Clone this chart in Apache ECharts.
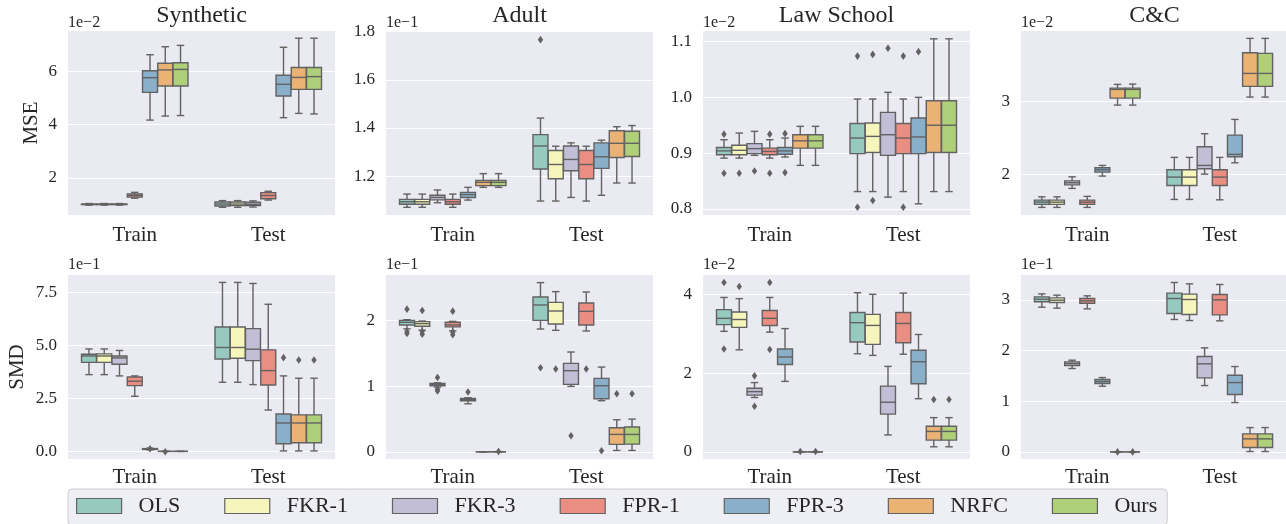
<!DOCTYPE html>
<html><head><meta charset="utf-8">
<script src="https://cdn.jsdelivr.net/npm/echarts@6/dist/echarts.min.js"></script>
<style>html,body{margin:0;padding:0;background:#fff}#c{width:1286px;height:524px}</style>
</head><body><div id="c"></div>
<script>
// ---------- data ----------
const hues = ['OLS', 'FKR-1', 'FKR-3', 'FPR-1', 'FPR-3', 'NRFC', 'Ours'];
const categories = ['Train', 'Test'];
const panelTitles = ['Synthetic', 'Adult', 'Law School', 'C&C'];
const rowNames = ['MSE', 'SMD'];

// each box: [min, q1, median, q3, max]; outliers: [categoryIndex, hueIndex, value]
const synMseTrain = [[0.98,1.00,1.01,1.02,1.04],[0.98,1.00,1.01,1.02,1.04],[0.98,1.00,1.01,1.02,1.04],[1.24,1.28,1.34,1.40,1.46],[4.17,5.21,5.76,6.02,6.62],[4.32,5.45,6.05,6.30,6.92],[4.34,5.45,6.07,6.32,6.97]];
const synMseTest  = [[0.90,0.95,1.02,1.10,1.15],[0.90,0.96,1.02,1.10,1.15],[0.91,0.96,1.01,1.09,1.14],[1.17,1.22,1.34,1.45,1.50],[4.26,5.07,5.51,5.85,6.90],[4.42,5.32,5.77,6.14,7.24],[4.40,5.32,5.80,6.14,7.24]];
const synMseOut   = [];
const synMseTicks = [2, 4, 6];

const adultMseTrain = [[1.070,1.083,1.093,1.103,1.125],[1.070,1.083,1.093,1.103,1.125],[1.089,1.101,1.111,1.120,1.142],[1.070,1.083,1.093,1.103,1.125],[1.100,1.111,1.123,1.132,1.153],[1.153,1.160,1.174,1.182,1.210],[1.153,1.160,1.174,1.182,1.210]];
const adultMseTest  = [[1.096,1.229,1.325,1.372,1.441],[1.096,1.189,1.248,1.306,1.324],[1.111,1.222,1.269,1.325,1.338],[1.096,1.189,1.248,1.306,1.324],[1.120,1.232,1.280,1.338,1.349],[1.171,1.277,1.336,1.388,1.405],[1.171,1.281,1.336,1.386,1.410]];
const adultMseOut   = [[1,0,1.767]];
const adultMseTicks = [1.2, 1.4, 1.6, 1.8];

const lawMseTrain = [[0.891,0.897,0.904,0.910,0.924],[0.891,0.897,0.905,0.914,0.936],[0.896,0.899,0.908,0.917,0.939],[0.891,0.897,0.903,0.909,0.924],[0.893,0.898,0.904,0.910,0.927],[0.878,0.909,0.922,0.933,0.948],[0.878,0.909,0.922,0.933,0.948]];
const lawMseTest  = [[0.831,0.899,0.927,0.953,0.997],[0.831,0.901,0.930,0.954,0.997],[0.821,0.896,0.933,0.973,1.009],[0.831,0.899,0.927,0.953,0.997],[0.809,0.899,0.929,0.963,1.000],[0.831,0.901,0.950,0.994,1.105],[0.831,0.901,0.950,0.994,1.105]];
const lawMseOut   = [[0,0,0.934],[0,0,0.864],[0,1,0.864],[0,2,0.868],[0,3,0.934],[0,3,0.864],[0,4,0.935],[0,4,0.865],
                     [1,0,1.074],[1,0,0.803],[1,1,1.077],[1,1,0.815],[1,2,1.088],[1,3,1.074],[1,3,0.803],[1,4,1.082]];
const lawMseTicks = [0.8, 0.9, 1.0, 1.1];

const ccMseTrain = [[1.544,1.585,1.616,1.644,1.689],[1.544,1.585,1.616,1.644,1.689],[1.804,1.853,1.881,1.908,1.963],[1.544,1.585,1.616,1.644,1.695],[1.973,2.027,2.059,2.087,2.119],[2.945,3.041,3.160,3.178,3.229],[2.945,3.041,3.160,3.178,3.233]];
const ccMseTest  = [[1.653,1.845,1.959,2.059,2.229],[1.653,1.845,1.959,2.059,2.229],[2.000,2.073,2.119,2.374,2.553],[1.648,1.845,1.959,2.059,2.229],[2.155,2.237,2.270,2.534,2.749],[3.055,3.201,3.379,3.662,3.859],[3.055,3.201,3.379,3.653,3.859]];
const ccMseOut   = [];
const ccMseTicks = [2, 3];

const synSmdTrain = [[3.62,4.20,4.50,4.58,4.83],[3.62,4.20,4.50,4.60,4.83],[3.56,4.11,4.41,4.50,4.76],[2.60,3.10,3.31,3.51,3.56],[0.07,0.09,0.11,0.13,0.15],[0,0,0,0,0],[0,0,0,0,0]];
const synSmdTest  = [[3.26,4.36,4.90,5.87,7.97],[3.26,4.39,4.90,5.87,7.97],[3.15,4.28,4.82,5.79,7.92],[1.95,3.13,3.81,4.79,6.94],[0.02,0.36,1.34,1.76,3.56],[0.02,0.41,1.34,1.72,3.45],[0.02,0.41,1.34,1.72,3.45]];
const synSmdOut   = [[0,4,0.12],[0,5,-0.02],[1,4,4.42],[1,5,4.31],[1,6,4.31]];
const synSmdTicks = [0, 2.5, 5, 7.5];

const adultSmdTrain = [[1.87,1.93,1.97,2.00,2.01],[1.85,1.91,1.95,1.98,1.99],[0.985,1.005,1.025,1.04,1.05],[1.84,1.90,1.93,1.97,1.985],[0.73,0.777,0.797,0.81,0.822],[0,0,0,0,0],[0,0,0,0,0]];
const adultSmdTest  = [[1.868,2.0,2.234,2.355,2.574],[1.848,1.944,2.142,2.274,2.437],[0.995,1.025,1.234,1.345,1.518],[1.838,1.929,2.137,2.264,2.431],[0.777,0.807,1.005,1.117,1.289],[0.02,0.112,0.264,0.365,0.487],[0.02,0.117,0.264,0.376,0.497]];
const adultSmdOut   = [[0,0,2.17],[0,0,1.83],[0,0,1.80],[0,1,2.15],[0,1,1.83],[0,1,1.79],[0,2,1.13],[0,2,0.95],[0,2,0.925],[0,3,2.14],[0,3,1.82],[0,3,1.78],[0,4,0.909],[0,6,0.003],
                       [1,0,1.279],[1,1,1.259],[1,2,0.244],[1,3,1.259],[1,4,0.015],[1,5,0.883],[1,6,0.883]];
const adultSmdTicks = [0, 1, 2];

const lawSmdTrain = [[3.06,3.23,3.39,3.61,3.92],[2.59,3.16,3.36,3.55,3.89],[1.38,1.44,1.53,1.615,1.76],[3.04,3.21,3.39,3.59,3.92],[1.79,2.22,2.41,2.61,3.13],[0,0,0,0,0],[0,0,0,0,0]];
const lawSmdTest  = [[2.49,2.79,3.28,3.54,4.04],[2.45,2.73,3.21,3.49,4.00],[0.43,0.96,1.26,1.67,2.17],[2.48,2.77,3.26,3.54,4.03],[1.35,1.73,2.29,2.58,2.98],[0.13,0.30,0.52,0.65,0.87],[0.13,0.30,0.52,0.65,0.87]];
const lawSmdOut   = [[0,0,4.30],[0,0,2.61],[0,1,4.20],[0,2,1.93],[0,2,1.16],[0,3,4.30],[0,3,2.60],[0,5,0.01],[0,6,0.01],[1,5,1.33],[1,6,1.33]];
const lawSmdTicks = [0, 2, 4];

const ccSmdTrain = [[2.855,2.961,3.013,3.059,3.118],[2.836,2.947,2.993,3.039,3.092],[1.645,1.704,1.743,1.776,1.809],[2.822,2.934,2.98,3.026,3.079],[1.296,1.349,1.388,1.428,1.467],[0,0,0,0,0],[0,0,0,0,0]];
const ccSmdTest  = [[2.612,2.73,3.026,3.132,3.342],[2.592,2.711,3.007,3.112,3.316],[1.309,1.461,1.737,1.882,2.053],[2.586,2.704,3.0,3.105,3.303],[0.974,1.132,1.368,1.513,1.684],[0.007,0.086,0.257,0.355,0.48],[0.007,0.086,0.257,0.355,0.48]];
const ccSmdOut   = [[0,5,0.0],[0,6,0.0]];
const ccSmdTicks = [0, 1, 2, 3];

const exponents = ['1e\u22122', '1e\u22121', '1e\u22122', '1e\u22122', '1e\u22121', '1e\u22121', '1e\u22122', '1e\u22121'];

// ---------- styling / layout ----------
const FONT = "'Liberation Serif', 'Times New Roman', serif";
const TXT = '#262626';
const GRAY = '#626262';
const hueColors = ['#96cac1', '#f5f5bc', '#c1bed6', '#ea8e83', '#8aafc9', '#eab375', '#afcf78'];
const gridLefts = [68, 386, 703, 1021];
const gridTops = [31, 275];
const catMargins = [10, 8];
const GW = 267, GH = 184;

const panels = [
  {train: synMseTrain, test: synMseTest, out: synMseOut, ticks: synMseTicks, min: 0.61, max: 7.51, dec: 0},
  {train: adultMseTrain, test: adultMseTest, out: adultMseOut, ticks: adultMseTicks, min: 1.038, max: 1.803, dec: 1},
  {train: lawMseTrain, test: lawMseTest, out: lawMseOut, ticks: lawMseTicks, min: 0.789, max: 1.119, dec: 1},
  {train: ccMseTrain, test: ccMseTest, out: ccMseOut, ticks: ccMseTicks, min: 1.44, max: 3.96, dec: 0},
  {train: synSmdTrain, test: synSmdTest, out: synSmdOut, ticks: synSmdTicks, min: -0.36, max: 8.32, dec: 1},
  {train: adultSmdTrain, test: adultSmdTest, out: adultSmdOut, ticks: adultSmdTicks, min: -0.11, max: 2.69, dec: 0},
  {train: lawSmdTrain, test: lawSmdTest, out: lawSmdOut, ticks: lawSmdTicks, min: -0.18, max: 4.49, dec: 0},
  {train: ccSmdTrain, test: ccSmdTest, out: ccSmdOut, ticks: ccSmdTicks, min: -0.14, max: 3.49, dec: 0}
];

function lineStyle() { return {stroke: GRAY, lineWidth: 1.4}; }

function hueCenter(api, ci, h, px) {
  const band = api.size([1, 0])[0];
  const slot = band * 0.8 / hues.length;
  return {cx: px - 0.4 * band + slot * (h + 0.5), slot: slot};
}

function boxRender(h) {
  return function (params, api) {
    const ci = api.value(0);
    const c = api.coord([ci, api.value(3)]);
    const hc = hueCenter(api, ci, h, c[0]);
    const cx = hc.cx, w = hc.slot * 0.98, cw = w * 0.5;
    const y = [1, 2, 3, 4, 5].map(k => api.coord([ci, api.value(k)])[1]);
    return {type: 'group', children: [
      {type: 'line', shape: {x1: cx, y1: y[3], x2: cx, y2: y[4]}, style: lineStyle()},
      {type: 'line', shape: {x1: cx, y1: y[1], x2: cx, y2: y[0]}, style: lineStyle()},
      {type: 'line', shape: {x1: cx - cw / 2, y1: y[4], x2: cx + cw / 2, y2: y[4]}, style: lineStyle()},
      {type: 'line', shape: {x1: cx - cw / 2, y1: y[0], x2: cx + cw / 2, y2: y[0]}, style: lineStyle()},
      {type: 'rect', shape: {x: cx - w / 2, y: y[3], width: w, height: y[1] - y[3]},
        style: {fill: hueColors[h], stroke: GRAY, lineWidth: 1.4}},
      {type: 'line', shape: {x1: cx - w / 2, y1: y[2], x2: cx + w / 2, y2: y[2]}, style: lineStyle()}
    ]};
  };
}

function outlierRender(params, api) {
  const ci = api.value(0), h = api.value(1);
  const p = api.coord([ci, api.value(2)]);
  const cx = hueCenter(api, ci, h, p[0]).cx;
  const a = 2.7, b = 3.8;
  return {type: 'polygon', shape: {points: [[cx, p[1] - b], [cx + a, p[1]], [cx, p[1] + b], [cx - a, p[1]]]},
    style: {fill: GRAY}};
}

const grid = [], xAxis = [], yAxis = [], series = [], graphic = [];
panels.forEach((pn, i) => {
  const col = i % 4, row = Math.floor(i / 4);
  grid.push({left: gridLefts[col], top: gridTops[row], width: GW, height: GH,
    show: true, backgroundColor: '#eaeaf2', borderWidth: 0});
  xAxis.push({gridIndex: i, type: 'category', data: categories,
    axisLine: {show: false}, axisTick: {show: false}, splitLine: {show: false},
    axisLabel: {fontFamily: FONT, fontSize: 21, color: TXT, margin: catMargins[row]}});
  yAxis.push({gridIndex: i, type: 'value', min: pn.min, max: pn.max,
    axisLine: {show: false}, axisTick: {show: false, customValues: pn.ticks},
    axisLabel: {customValues: pn.ticks, formatter: v => Number(v).toFixed(pn.dec),
      fontFamily: FONT, fontSize: 17, color: TXT, margin: 11},
    splitLine: {show: true, lineStyle: {color: '#ffffff', width: 1.2}}});
  hues.forEach((name, h) => {
    series.push({type: 'custom', name: name, xAxisIndex: i, yAxisIndex: i,
      itemStyle: {color: hueColors[h]},
      encode: {x: 0, y: [1, 2, 3, 4, 5]},
      data: [[0].concat(pn.train[h]), [1].concat(pn.test[h])],
      renderItem: boxRender(h), silent: true});
  });
  if (pn.out.length) {
    series.push({type: 'custom', xAxisIndex: i, yAxisIndex: i, encode: {x: 0, y: 2},
      data: pn.out, renderItem: outlierRender, silent: true, z: 5});
  }
  // exponent label
  graphic.push({type: 'text', x: gridLefts[col], y: row === 0 ? 23 : 265,
    style: {text: exponents[i], font: '16px ' + FONT, fill: TXT, textAlign: 'left', textVerticalAlign: 'middle'}});
});

panelTitles.forEach((t, c) => {
  graphic.push({type: 'text', x: gridLefts[c] + GW / 2, y: 16,
    style: {text: t, font: '24px ' + FONT, fill: TXT, textAlign: 'center', textVerticalAlign: 'middle'}});
});
graphic.push({type: 'text', x: 31.5, y: gridTops[0] + GH / 2, rotation: Math.PI / 2,
  style: {text: rowNames[0], font: '21px ' + FONT, fill: TXT, textAlign: 'center', textVerticalAlign: 'middle'}});
graphic.push({type: 'text', x: 17, y: gridTops[1] + GH / 2, rotation: Math.PI / 2,
  style: {text: rowNames[1], font: '21px ' + FONT, fill: TXT, textAlign: 'center', textVerticalAlign: 'middle'}});

const chart = echarts.init(document.getElementById('c'), null, {renderer: 'canvas'});
chart.setOption({
  animation: false,
  backgroundColor: '#ffffff',
  grid, xAxis, yAxis, series, graphic,
  legend: {
    data: hues, left: 68, top: 489, icon: 'rect', itemWidth: 45, itemHeight: 15, itemGap: 44,
    selectedMode: false, orient: 'horizontal',
    padding: [6, 10, 8, 8], backgroundColor: '#eeeef5', borderColor: '#cccccc', borderWidth: 1, borderRadius: 4,
    itemStyle: {borderColor: GRAY, borderWidth: 1.2},
    textStyle: {fontFamily: FONT, fontSize: 22, color: TXT, padding: [0, 0, 0, 12]}
  }
});
</script></body></html>
